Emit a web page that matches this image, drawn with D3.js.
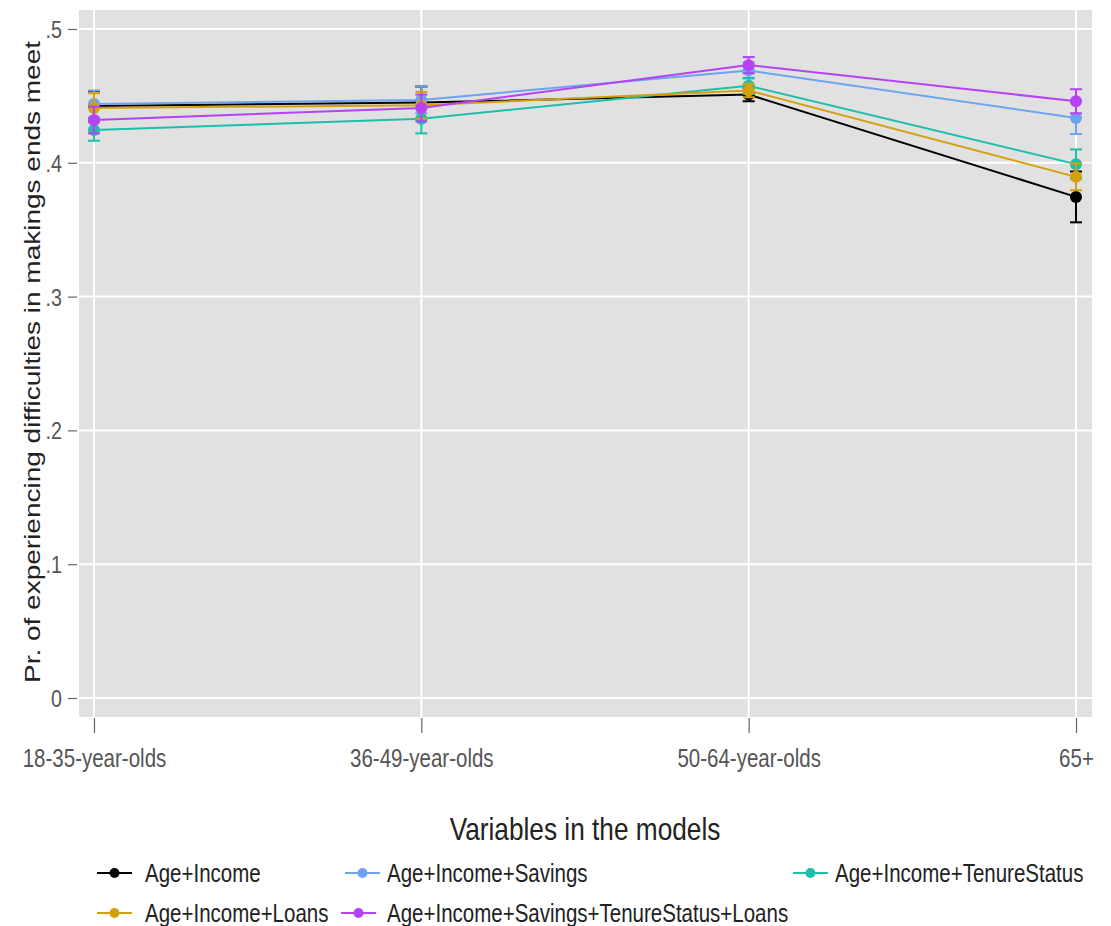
<!DOCTYPE html>
<html>
<head>
<meta charset="utf-8">
<script src="https://cdn.jsdelivr.net/npm/d3@7"></script>
<style>
  body { margin: 0; background: #fff; }
  text { font-family: "Liberation Sans", Arial, sans-serif; }
</style>
</head>
<body>
<div id="chart"></div>
<script>
// age groups on the x axis
var categories = ["18-35-year-olds", "36-49-year-olds", "50-64-year-olds", "65+"];
var yTicks = [0, 0.1, 0.2, 0.3, 0.4, 0.5];
var yTickLabels = ["0", ".1", ".2", ".3", ".4", ".5"];

// predicted probabilities and half-width of the CI, per model
var seriesNames = ["Age+Income", "Age+Income+Savings", "Age+Income+TenureStatus",
                   "Age+Income+Loans", "Age+Income+Savings+TenureStatus+Loans"];
var seriesColors = ["#000000", "#6ea3f2", "#1dbfa9", "#d3a10e", "#b542f4"];
var incomeVals   = [0.4425, 0.445, 0.451, 0.3745];
var incomeErr    = [0.011, 0.012, 0.005, 0.019];
var savingsVals  = [0.444, 0.447, 0.469, 0.4335];
var savingsErr   = [0.010, 0.010, 0.006, 0.012];
var tenureVals   = [0.4245, 0.433, 0.4575, 0.399];
var tenureErr    = [0.008, 0.011, 0.006, 0.011];
var loansVals    = [0.441, 0.443, 0.454, 0.3895];
var loansErr     = [0.011, 0.010, 0.005, 0.010];
var allVals      = [0.432, 0.441, 0.473, 0.446];
var allErr       = [0.010, 0.010, 0.006, 0.009];

var valueLists = [incomeVals, savingsVals, tenureVals, loansVals, allVals];
var errLists = [incomeErr, savingsErr, tenureErr, loansErr, allErr];

var series = seriesNames.map(function (name, i) {
    return {
        name: name,
        color: seriesColors[i],
        points: categories.map(function (c, j) {
            return { cat: c, v: valueLists[i][j], e: errLists[i][j] };
        })
    };
});

var width = 1111, height = 926;
var plot = { left: 79, right: 1092, top: 10, bottom: 717 };
var squeeze = 0.82; // the original text is horizontally condensed

// squash text horizontally, keeping its anchor point
function condense(sel) {
    sel.each(function () {
        var t = d3.select(this);
        var x0 = +t.attr('x') || 0;
        t.attr('x', x0 / squeeze)
         .attr('transform', 'scale(' + squeeze + ',1)');
    });
}

var svg = d3.select('#chart').append('svg')
    .attr('width', width)
    .attr('height', height);

var x = d3.scalePoint()
    .domain(categories)
    .range([94, 1076]);

var y = d3.scaleLinear()
    .domain([0, 0.5])
    .range([698, 29]);

// panel background
svg.append('rect')
    .attr('x', plot.left)
    .attr('y', plot.top)
    .attr('width', plot.right - plot.left)
    .attr('height', plot.bottom - plot.top)
    .attr('fill', '#e1e1e1');

// grid lines
svg.append('g').selectAll('line')
    .data(yTicks)
    .enter().append('line')
    .attr('x1', plot.left).attr('x2', plot.right)
    .attr('y1', function (d) { return y(d); })
    .attr('y2', function (d) { return y(d); })
    .attr('stroke', '#fff')
    .attr('stroke-width', 2);

svg.append('g').selectAll('line')
    .data(categories)
    .enter().append('line')
    .attr('x1', function (d) { return x(d); })
    .attr('x2', function (d) { return x(d); })
    .attr('y1', plot.top).attr('y2', plot.bottom)
    .attr('stroke', '#fff')
    .attr('stroke-width', 2);

// y axis
var yAxis = d3.axisLeft(y)
    .tickValues(yTicks)
    .tickSize(9)
    .tickPadding(6)
    .tickFormat(function (d, i) { return yTickLabels[i]; });

var gy = svg.append('g')
    .attr('transform', 'translate(' + (plot.left - 2) + ',0)')
    .call(yAxis);
gy.select('.domain').remove();
gy.selectAll('line').attr('stroke', '#666').attr('stroke-width', 1.2);
gy.selectAll('text')
    .attr('fill', '#555')
    .style('font-size', '24px')
    .attr('dy', '0.35em')
    .call(condense);

// x axis
var xAxis = d3.axisBottom(x)
    .tickSize(15)
    .tickPadding(16);

var gx = svg.append('g')
    .attr('transform', 'translate(0,' + (plot.bottom + 1) + ')')
    .call(xAxis);
gx.select('.domain').remove();
gx.selectAll('line').attr('stroke', '#666').attr('stroke-width', 1.2);
gx.selectAll('text')
    .attr('fill', '#555')
    .style('font-size', '25px')
    .call(condense);

// axis titles
svg.append('text')
    .attr('x', 585)
    .attr('y', 840)
    .attr('text-anchor', 'middle')
    .attr('fill', '#222')
    .style('font-size', '32px')
    .text('Variables in the models')
    .call(condense);

svg.append('text')
    .attr('transform', 'translate(40,362) scale(' + squeeze + ',1) rotate(-90)')
    .attr('text-anchor', 'middle')
    .attr('fill', '#222')
    .style('font-size', '28px')
    .text('Pr. of experiencing difficulties in makings ends meet');

// lines, error bars and markers
var line = d3.line()
    .x(function (d) { return x(d.cat); })
    .y(function (d) { return y(d.v); });

var groups = svg.append('g').selectAll('g')
    .data(series)
    .enter().append('g');

groups.append('path')
    .attr('d', function (d) { return line(d.points); })
    .attr('fill', 'none')
    .attr('stroke', function (d) { return d.color; })
    .attr('stroke-width', 2);

groups.each(function (s) {
    var g = d3.select(this);
    var pts = g.selectAll('g.pt')
        .data(s.points)
        .enter().append('g')
        .attr('class', 'pt');
    pts.append('line')
        .attr('x1', function (d) { return x(d.cat); })
        .attr('x2', function (d) { return x(d.cat); })
        .attr('y1', function (d) { return y(d.v - d.e); })
        .attr('y2', function (d) { return y(d.v + d.e); })
        .attr('stroke', s.color)
        .attr('stroke-width', 2);
    [-1, 1].forEach(function (sign) {
        pts.append('line')
            .attr('x1', function (d) { return x(d.cat) - 6; })
            .attr('x2', function (d) { return x(d.cat) + 6; })
            .attr('y1', function (d) { return y(d.v + sign * d.e); })
            .attr('y2', function (d) { return y(d.v + sign * d.e); })
            .attr('stroke', s.color)
            .attr('stroke-width', 2);
    });
    pts.append('circle')
        .attr('cx', function (d) { return x(d.cat); })
        .attr('cy', function (d) { return y(d.v); })
        .attr('r', 6)
        .attr('fill', s.color);
});

// legend: columns hold (0,3), (1,4), (2)
var legendPos = [
    { x: 97, y: 873, tx: 48 }, { x: 345, y: 873, tx: 42 }, { x: 793, y: 873, tx: 42 },
    { x: 97, y: 913, tx: 48 }, { x: 341, y: 913, tx: 46 }
];

var legend = svg.append('g').selectAll('g')
    .data(series)
    .enter().append('g')
    .attr('transform', function (d, i) {
        return 'translate(' + legendPos[i].x + ',' + legendPos[i].y + ')';
    });

legend.append('line')
    .attr('x1', 0).attr('x2', 35)
    .attr('y1', 0).attr('y2', 0)
    .attr('stroke', function (d) { return d.color; })
    .attr('stroke-width', 2);

legend.append('circle')
    .attr('cx', 17.5).attr('cy', 0).attr('r', 5)
    .attr('fill', function (d) { return d.color; });

legend.append('text')
    .attr('x', function (d, i) { return legendPos[i].tx; })
    .attr('y', 0)
    .attr('dy', '0.35em')
    .attr('fill', '#222')
    .style('font-size', '25px')
    .text(function (d) { return d.name; })
    .call(condense);
</script>
</body>
</html>
